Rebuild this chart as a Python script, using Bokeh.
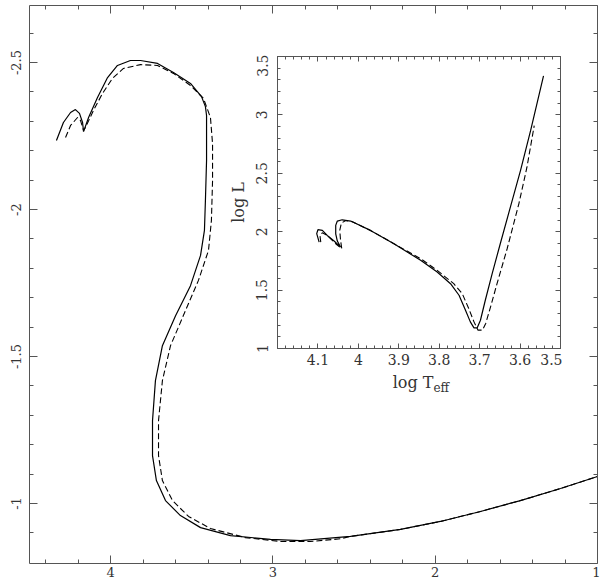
from bokeh.plotting import figure
from bokeh.models import Range1d, LinearAxis, FixedTicker, Label, CustomJSTickFormatter
from bokeh.embed import file_html
from bokeh.resources import INLINE

# ---------------- data: main panel ----------------
main_solid_x = [4.334, 4.291, 4.247, 4.217, 4.192, 4.173, 4.167, 4.136, 4.081, 4.019,
                3.958, 3.878, 3.816, 3.711, 3.613, 3.508, 3.440, 3.416, 3.409, 3.409,
                3.416, 3.422, 3.446, 3.508, 3.600, 3.681, 3.724, 3.742, 3.742, 3.718,
                3.662, 3.570, 3.446, 3.262, 3.015, 2.830, 2.522, 2.214, 1.968, 1.721,
                1.475, 1.228, 1.000]
main_solid_y = [-2.235, -2.296, -2.330, -2.340, -2.327, -2.296, -2.265, -2.313, -2.381, -2.449,
                -2.490, -2.507, -2.507, -2.497, -2.466, -2.429, -2.384, -2.350, -2.320, -2.167,
                -2.031, -1.929, -1.844, -1.741, -1.639, -1.537, -1.418, -1.282, -1.163, -1.078,
                -1.010, -0.959, -0.918, -0.891, -0.878, -0.874, -0.888, -0.912, -0.939, -0.973,
                -1.010, -1.051, -1.092]

main_dash_x = [4.278, 4.247, 4.204, 4.186, 4.167, 4.155, 4.106, 4.050, 3.989, 3.921,
               3.816, 3.711, 3.613, 3.508, 3.428, 3.385, 3.372, 3.372, 3.379, 3.397,
               3.459, 3.539, 3.631, 3.681, 3.705, 3.705, 3.681, 3.619, 3.520, 3.385,
               3.169, 2.953, 2.769, 2.584, 2.522, 2.214, 1.968, 1.721, 1.475, 1.228,
               1.000]
main_dash_y = [-2.245, -2.286, -2.313, -2.303, -2.269, -2.279, -2.337, -2.395, -2.446, -2.480,
               -2.493, -2.490, -2.463, -2.422, -2.378, -2.313, -2.224, -2.099, -1.963, -1.861,
               -1.759, -1.656, -1.537, -1.418, -1.282, -1.163, -1.078, -1.010, -0.956, -0.915,
               -0.884, -0.871, -0.871, -0.880, -0.888, -0.912, -0.939, -0.973, -1.010, -1.051,
               -1.092]

main_x_ticks = [4, 3, 2, 1]
main_x_labels = ["4", "3", "2", "1"]
main_x_minor = [4.4, 4.2, 3.8, 3.6, 3.4, 3.2, 2.8, 2.6, 2.4, 2.2, 1.8, 1.6, 1.4, 1.2]
main_y_ticks = [-2.5, -2, -1.5, -1]
main_y_labels = ["-2.5", "-2", "-1.5", "-1"]
main_y_minor = [-2.6, -2.4, -2.3, -2.2, -2.1, -1.9, -1.8, -1.7, -1.6, -1.4, -1.3,
                -1.2, -1.1, -0.9]

# ---------------- data: inset ----------------
inset_solid_x = [4.097, 4.103, 4.100, 4.089, 4.077, 4.060, 4.044, 4.052, 4.056, 4.056,
                 4.052, 4.040, 4.019, 3.970, 3.912, 3.846, 3.805, 3.772, 3.751, 3.735,
                 3.723, 3.714, 3.706, 3.698, 3.686, 3.669, 3.649, 3.624, 3.599, 3.574,
                 3.542]
inset_solid_y = [1.911, 1.983, 2.017, 2.011, 1.968, 1.920, 1.868, 1.920, 1.982, 2.054,
                 2.091, 2.102, 2.091, 2.011, 1.897, 1.755, 1.655, 1.555, 1.456, 1.327,
                 1.228, 1.177, 1.177, 1.242, 1.413, 1.641, 1.897, 2.210, 2.523, 2.865,
                 3.335]

inset_dash_x = [4.093, 4.095, 4.089, 4.077, 4.056, 4.041, 4.044, 4.046, 4.042, 4.031,
                4.015, 3.970, 3.912, 3.846, 3.805, 3.764, 3.743, 3.727, 3.714, 3.704,
                3.693, 3.685, 3.673, 3.657, 3.632, 3.603, 3.583, 3.565]
inset_dash_y = [1.911, 1.968, 1.991, 1.968, 1.897, 1.854, 1.925, 2.011, 2.074, 2.096,
                2.085, 2.011, 1.897, 1.769, 1.669, 1.555, 1.470, 1.342, 1.228, 1.157,
                1.157, 1.214, 1.356, 1.555, 1.854, 2.239, 2.552, 2.908]

inset_x_ticks = [4.2, 4.1, 4.0, 3.9, 3.8, 3.7, 3.6, 3.5]
inset_x_labels = ["", "4.1", "4", "3.9", "3.8", "3.7", "3.6", "3.5"]
inset_y_ticks = [1, 1.5, 2, 2.5, 3, 3.5]
inset_y_labels = ["1", "1.5", "2", "2.5", "3", "3.5"]

FONT = "DejaVu Serif"
AXC = "#555555"
TXC = "#333333"


def style_axis(ax, ticks, labels, minor, tin, tmin, fsize, standoff, show):
    ax.ticker = FixedTicker(ticks=ticks, minor_ticks=minor)
    ax.axis_line_color = AXC
    ax.major_tick_line_color = AXC
    ax.minor_tick_line_color = AXC
    ax.major_tick_in = tin
    ax.major_tick_out = 0
    ax.minor_tick_in = tmin
    ax.minor_tick_out = 0
    if show:
        ax.major_label_overrides = {t: l for t, l in zip(ticks, labels)}
        ax.major_label_text_font = FONT
        ax.major_label_text_font_size = fsize
        ax.major_label_text_color = TXC
        ax.major_label_standoff = standoff
    else:
        ax.formatter = CustomJSTickFormatter(code="return ''")
        ax.major_label_text_font_size = "0px"
        ax.major_label_standoff = 0


# ---------------- main figure ----------------
p = figure(width=600, height=580, x_range=Range1d(4.5, 1.0), y_range=Range1d(-0.796, -2.694),
           output_backend="svg", toolbar_location=None,
           min_border_left=29, min_border_right=3, min_border_top=5, min_border_bottom=17,
           x_axis_location=None, y_axis_location=None)
p.grid.visible = False
p.outline_line_color = None
p.background_fill_color = "white"

for loc, show in [("below", True), ("above", False)]:
    ax = LinearAxis()
    style_axis(ax, main_x_ticks, main_x_labels, main_x_minor, 8, 4, "13px", 3, show)
    p.add_layout(ax, loc)
for loc, show in [("left", True), ("right", False)]:
    ax = LinearAxis()
    style_axis(ax, main_y_ticks, main_y_labels, main_y_minor, 8, 4, "13px", 8, show)
    if show:
        ax.major_label_orientation = "vertical"
    p.add_layout(ax, loc)

p.line(main_solid_x, main_solid_y, line_color="black", line_width=1.2)
p.line(main_dash_x, main_dash_y, line_color="black", line_width=1.1, line_dash="6 3")

# inset x-axis title "log T_eff" (drawn on the main canvas, under the transparent inset border)
p.add_layout(Label(x=2.011, y=-1.410, text="log T", text_align="right", text_baseline="middle",
                   text_font=FONT, text_font_size="16px", text_color=TXC))
p.add_layout(Label(x=2.011, y=-1.392, text="eff", text_align="left", text_baseline="middle",
                   text_font=FONT, text_font_size="12px", text_color=TXC))

# ---------------- inset figure ----------------
q = figure(width=337, height=342, x_range=Range1d(4.2, 3.5), y_range=Range1d(1, 3.5),
           output_backend="svg", toolbar_location=None,
           min_border_left=52, min_border_right=2, min_border_top=2, min_border_bottom=48,
           x_axis_location=None, y_axis_location=None,
           styles={"position": "absolute", "left": "225px", "top": "54px"})
q.grid.visible = False
q.outline_line_color = None
q.background_fill_alpha = 0
q.border_fill_alpha = 0

inset_x_minor = [round(3.5 + 0.02 * i, 2) for i in range(36)]
inset_y_minor = [round(1 + 0.1 * i, 1) for i in range(26)]

for loc, show in [("below", True), ("above", False)]:
    ax = LinearAxis()
    style_axis(ax, inset_x_ticks, inset_x_labels, inset_x_minor, 5, 3, "14px", 5, show)
    q.add_layout(ax, loc)
for loc, show in [("left", True), ("right", False)]:
    ax = LinearAxis()
    style_axis(ax, inset_y_ticks, inset_y_labels, inset_y_minor, 5, 3, "14px", 10, show)
    if show:
        ax.major_label_orientation = "vertical"
        ax.axis_label = "log L"
        ax.axis_label_text_font = FONT
        ax.axis_label_text_font_size = "16px"
        ax.axis_label_text_font_style = "normal"
        ax.axis_label_text_color = TXC
        ax.axis_label_standoff = 6
    q.add_layout(ax, loc)

q.line(inset_solid_x, inset_solid_y, line_color="black", line_width=1.2)
q.line(inset_dash_x, inset_dash_y, line_color="black", line_width=1.1, line_dash="6 3")

open("out.html", "w").write(file_html([p, q], INLINE))
